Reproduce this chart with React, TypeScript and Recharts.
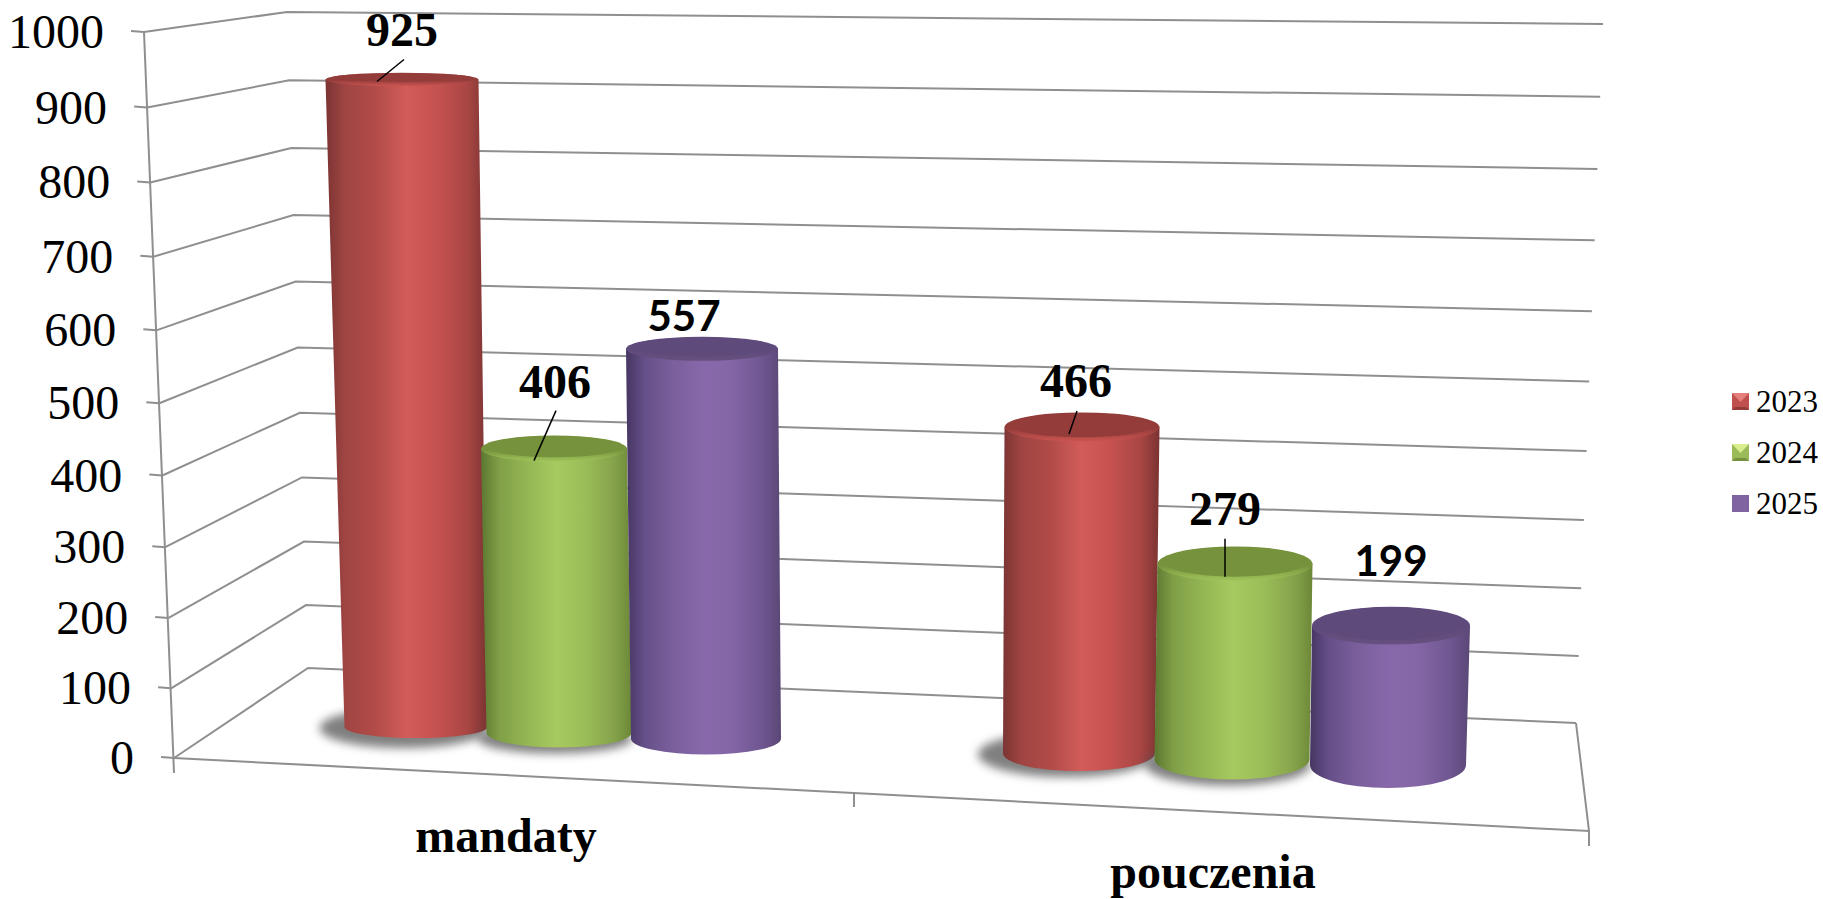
import React from 'react';
import { BarChart, Bar, XAxis, YAxis, CartesianGrid, LabelList, Legend } from 'recharts';

const CATEGORIES = ['mandaty', 'pouczenia'];
const SERIES_NAMES = ['2023', '2024', '2025'];
const VALUES_2023 = [925, 466];
const VALUES_2024 = [406, 279];
const VALUES_2025 = [557, 199];
const Y_TICKS = [0, 100, 200, 300, 400, 500, 600, 700, 800, 900, 1000];

const rows = CATEGORIES.map((category, i) => ({
  category,
  v2023: VALUES_2023[i],
  v2024: VALUES_2024[i],
  v2025: VALUES_2025[i],
}));

const WIDTH = 1823;
const HEIGHT = 899;
const PLOT_TOP = 27;
const PLOT_BOTTOM = 727;
const PLOT_LEFT = 222;
const PLOT_RIGHT = 1570;

// the flat plot is pushed into the tilted 3d frame by these
const FLOOR_SLOPE = 0.039;
const FLOOR_ORIGIN_X = 409;
const SERIF = '"Liberation Serif", serif';
const GRID_COLOR = '#8f8f8f';

const lerp = (a: number, b: number, t: number) => a + (b - a) * t;

// walls get a bit wider spaced towards the top
const warp = (f: number) => (693 * f + 33 * f * f) / 726;

const wall = {
  front: (f: number) => ({ x: lerp(174, 144, warp(f)), y: lerp(758, 32, warp(f)) }),
  back: (f: number) => ({ x: lerp(308, 287, warp(f)), y: lerp(668, 12, warp(f)) }),
  right: (f: number) => ({ x: lerp(1576, 1603, warp(f)), y: lerp(723, 24, warp(f)) }),
};

const fraction = (y: number) => (PLOT_BOTTOM - y) / (PLOT_BOTTOM - PLOT_TOP);

const SKINS = [
  {
    id: 'red', fill: '#c0504d', cap: '#943c3a', rim: '#cc5552',
    stops: ['#7b3432', '#a04543', '#b04b48', '#d25c59', '#c65250', '#a84644', '#7a3331'],
  },
  {
    id: 'green', fill: '#9bbb59', cap: '#76923c', rim: '#a2c65c',
    stops: ['#5c7731', '#809f47', '#94b553', '#a6ca60', '#9cbe59', '#86a34b', '#6c8838'],
  },
  {
    id: 'purple', fill: '#8064a2', cap: '#5f4a7c', rim: '#66507f',
    stops: ['#463662', '#665089', '#7a5f9c', '#8868aa', '#8466a6', '#6e5690', '#5a4776'],
  },
];

const STOP_OFFSETS = ['0%', '12%', '30%', '50%', '68%', '88%', '100%'];

// per cylinder [series][category]: top shift, base shift, top width change, base width change, base depth change
const CYLINDER_TWEAK = [
  [[-7, 7, 3, -7, -6], [-1, -4, 5, 2, -2]],
  [[-5, 0, -4, -5, -3], [2, -1, 5, 5, 0]],
  [[-7, -3, 2, 0, -2.5], [8, 5, 8, 6, 2]],
];

// per label [series][category]: text dx, dy from the rim centre
const LABEL_OFFSET = [
  [[0, -34], [-6, -30]],
  [[1, -51], [-10, -39]],
  [[-18, -18], [0, -50]],
];

// leader lines, same indexing: x1, y1, x2, y2 from the rim centre
const LEADERS: (number[] | null)[][] = [
  [[2, -20, -25, 2], [-5, -16, -13, 7]],
  [[2, -38, -20, 12], [-10, -25, -10, 13]],
  [null, null],
];

const LABEL_FONTS = [
  [SERIF, SERIF],
  [SERIF, SERIF],
  ['Lato, sans-serif', 'Lato, sans-serif'],
];

const CATEGORY_LABEL_SHIFT = [
  { dx: -53, y: 852 },
  { dx: -20, y: 888 },
];

const rimDepth = (cx: number, y: number) => 4 + 0.016 * y + 0.0035 * cx;

function cylinderGeometry(x: number, y: number, width: number, height: number, series: number, cat: number) {
  const [topDx, baseDx, topDw, baseDw, baseDd] = CYLINDER_TWEAK[series][cat];
  const cx = x + width / 2;
  const drop = FLOOR_SLOPE * (cx - FLOOR_ORIGIN_X);
  const topCx = cx + topDx;
  const baseCx = cx + baseDx;
  const topY = y + drop;
  const baseY = y + height + drop;
  return {
    topCx,
    baseCx,
    topY,
    baseY,
    topRx: (width + topDw) / 2,
    baseRx: (width + baseDw) / 2,
    topRy: rimDepth(topCx, topY),
    baseRy: rimDepth(baseCx, baseY) + baseDd,
  };
}

const FloorShadow = ({ g, series }: any) =>
  series === 0 ? (
    <ellipse
      cx={g.baseCx - 12}
      cy={g.baseY + 1}
      rx={g.baseRx + 13}
      ry={Math.max(g.baseRy + 5, 20)}
      fill="#555"
      opacity={0.75}
      filter="url(#floorBlur)"
    />
  ) : (
    <ellipse
      cx={g.baseCx - 4}
      cy={g.baseY + 6}
      rx={g.baseRx + 5}
      ry={g.baseRy}
      fill="#555"
      opacity={0.75}
      filter="url(#floorBlur)"
    />
  );

const Cylinder = (props: any) => {
  const { x, y, width, height, index, series } = props;
  const g = cylinderGeometry(x, y, width, height, series, index);
  const skin = SKINS[series];
  const body = [
    `M ${g.topCx - g.topRx} ${g.topY}`,
    `L ${g.baseCx - g.baseRx} ${g.baseY}`,
    `A ${g.baseRx} ${g.baseRy} 0 0 0 ${g.baseCx + g.baseRx} ${g.baseY}`,
    `L ${g.topCx + g.topRx} ${g.topY}`,
    'Z',
  ].join(' ');
  return (
    <g>
      {series < 2 && <FloorShadow g={g} series={series} />}
      <path d={body} fill={`url(#skin-${skin.id})`} />
      <ellipse cx={g.topCx} cy={g.topY} rx={g.topRx} ry={g.topRy} fill={`url(#rim-${skin.id})`} />
      <ellipse cx={g.topCx} cy={g.topY - 2} rx={g.topRx - 6} ry={Math.max(g.topRy - 2.5, 1)} fill={skin.cap} />
    </g>
  );
};

const ValueLabel = (props: any) => {
  const box = props.viewBox ?? props;
  const { value, index, series } = props;
  const g = cylinderGeometry(box.x, box.y, box.width, box.height, series, index);
  const [dx, dy] = LABEL_OFFSET[series][index];
  const leader = LEADERS[series][index];
  const font = LABEL_FONTS[series][index];
  return (
    <g>
      <text
        x={g.topCx + dx}
        y={g.topY + dy}
        textAnchor="middle"
        fontFamily={font}
        fontWeight={700}
        fontSize={font === SERIF ? 48 : 42}
        fill="#000"
      >
        {value}
      </text>
      {leader && (
        <line
          x1={g.topCx + leader[0]}
          y1={g.topY + leader[1]}
          x2={g.topCx + leader[2]}
          y2={g.topY + leader[3]}
          stroke="#000"
          strokeWidth={1.5}
        />
      )}
    </g>
  );
};

const YTick = (props: any) => {
  const { y, payload } = props;
  const p = wall.front(fraction(y));
  return (
    <g>
      <line x1={p.x - 13} y1={p.y - 1} x2={p.x} y2={p.y} stroke={GRID_COLOR} strokeWidth={2} />
      <text x={p.x - 40} y={p.y + 16} textAnchor="end" fontFamily={SERIF} fontSize={48} fill="#000">
        {payload.value}
      </text>
    </g>
  );
};

const CategoryTick = (props: any) => {
  const { x, payload, index } = props;
  const shift = CATEGORY_LABEL_SHIFT[index];
  return (
    <text x={x + shift.dx} y={shift.y} textAnchor="middle" fontFamily={SERIF} fontWeight={700} fontSize={48} fill="#000">
      {payload.value}
    </text>
  );
};

const WallLine = (props: any) => {
  const f = fraction(props.y1);
  const a = wall.front(f);
  const b = wall.back(f);
  const c = wall.right(f);
  const isFloor = Math.abs(f) < 0.001;
  return (
    <g fill="none" stroke={GRID_COLOR} strokeWidth={2}>
      <polyline points={`${a.x},${a.y} ${b.x},${b.y} ${c.x},${c.y}`} />
      {isFloor && (
        <>
          <polyline points={`${c.x},${c.y} 1589,831 174,758`} />
          <line x1={wall.front(1).x} y1={wall.front(1).y} x2={174} y2={773} />
          <line x1={854} y1={794} x2={854} y2={807} />
          <line x1={1589} y1={831} x2={1589} y2={846} />
        </>
      )}
    </g>
  );
};

const LegendSwatch = ({ index }: { index: number }) => {
  const skin = SKINS[index];
  return (
    <svg width={17} height={17} style={{ display: 'block' }}>
      <rect width={17} height={17} fill={skin.fill} />
      {index < 2 && (
        <>
          <path d="M0 17 L17 17 L14 14 L3 14 Z" fill={skin.cap} />
          <path d="M0 0 L17 0 L8.5 9 Z" fill={index === 0 ? '#e57f7c' : '#d8ee8e'} />
        </>
      )}
    </svg>
  );
};

const LegendContent = (props: any) => (
  <div>
    {props.payload.map((entry: any, i: number) => (
      <div key={entry.value} style={{ display: 'flex', alignItems: 'center', height: 51 }}>
        <LegendSwatch index={i} />
        <span style={{ marginLeft: 7, fontFamily: SERIF, fontSize: 31, color: '#000', lineHeight: '51px' }}>
          {entry.value}
        </span>
      </div>
    ))}
  </div>
);

export default function App() {
  const keys = ['v2023', 'v2024', 'v2025'];
  return (
    <div style={{ position: 'absolute', left: 0, top: 0, width: WIDTH, height: HEIGHT, background: '#fff', overflow: 'hidden' }}>
      <BarChart
        width={WIDTH}
        height={HEIGHT}
        data={rows}
        barSize={150}
        barGap={0}
        margin={{ top: PLOT_TOP, right: WIDTH - PLOT_RIGHT, bottom: 0, left: 0 }}
      >
        <defs>
          {SKINS.map((skin) => (
            <linearGradient key={skin.id} id={`skin-${skin.id}`} x1="0" y1="0" x2="1" y2="0">
              {skin.stops.map((color, i) => (
                <stop key={i} offset={STOP_OFFSETS[i]} stopColor={color} />
              ))}
            </linearGradient>
          ))}
          {SKINS.map((skin) => (
            <linearGradient key={skin.id} id={`rim-${skin.id}`} x1="0" y1="0" x2="0" y2="1">
              <stop offset="0%" stopColor={skin.cap} />
              <stop offset="55%" stopColor={skin.cap} />
              <stop offset="100%" stopColor={skin.rim} />
            </linearGradient>
          ))}
          <filter id="floorBlur" x="-20%" y="-80%" width="140%" height="260%">
            <feGaussianBlur stdDeviation="5" />
          </filter>
        </defs>
        <CartesianGrid vertical={false} horizontal={(p: any) => <WallLine key={p.index} {...p} />} syncWithTicks />
        <XAxis
          dataKey="category"
          height={HEIGHT - PLOT_BOTTOM}
          axisLine={false}
          tickLine={false}
          interval={0}
          tick={CategoryTick}
        />
        <YAxis
          width={PLOT_LEFT}
          domain={[0, 1000]}
          ticks={Y_TICKS}
          interval={0}
          axisLine={false}
          tickLine={false}
          tick={YTick}
        />
        {keys.map((key, series) => (
          <Bar
            key={key}
            dataKey={key}
            name={SERIES_NAMES[series]}
            fill={SKINS[series].fill}
            isAnimationActive={false}
            shape={(p: any) => <Cylinder {...p} series={series} />}
          >
            <LabelList dataKey={key} content={(p: any) => <ValueLabel {...p} series={series} />} />
          </Bar>
        ))}
        <Legend
          layout="vertical"
          align="center"
          verticalAlign="middle"
          content={LegendContent}
          wrapperStyle={{ left: 1732, top: 376, width: 91 }}
        />
      </BarChart>
    </div>
  );
}
